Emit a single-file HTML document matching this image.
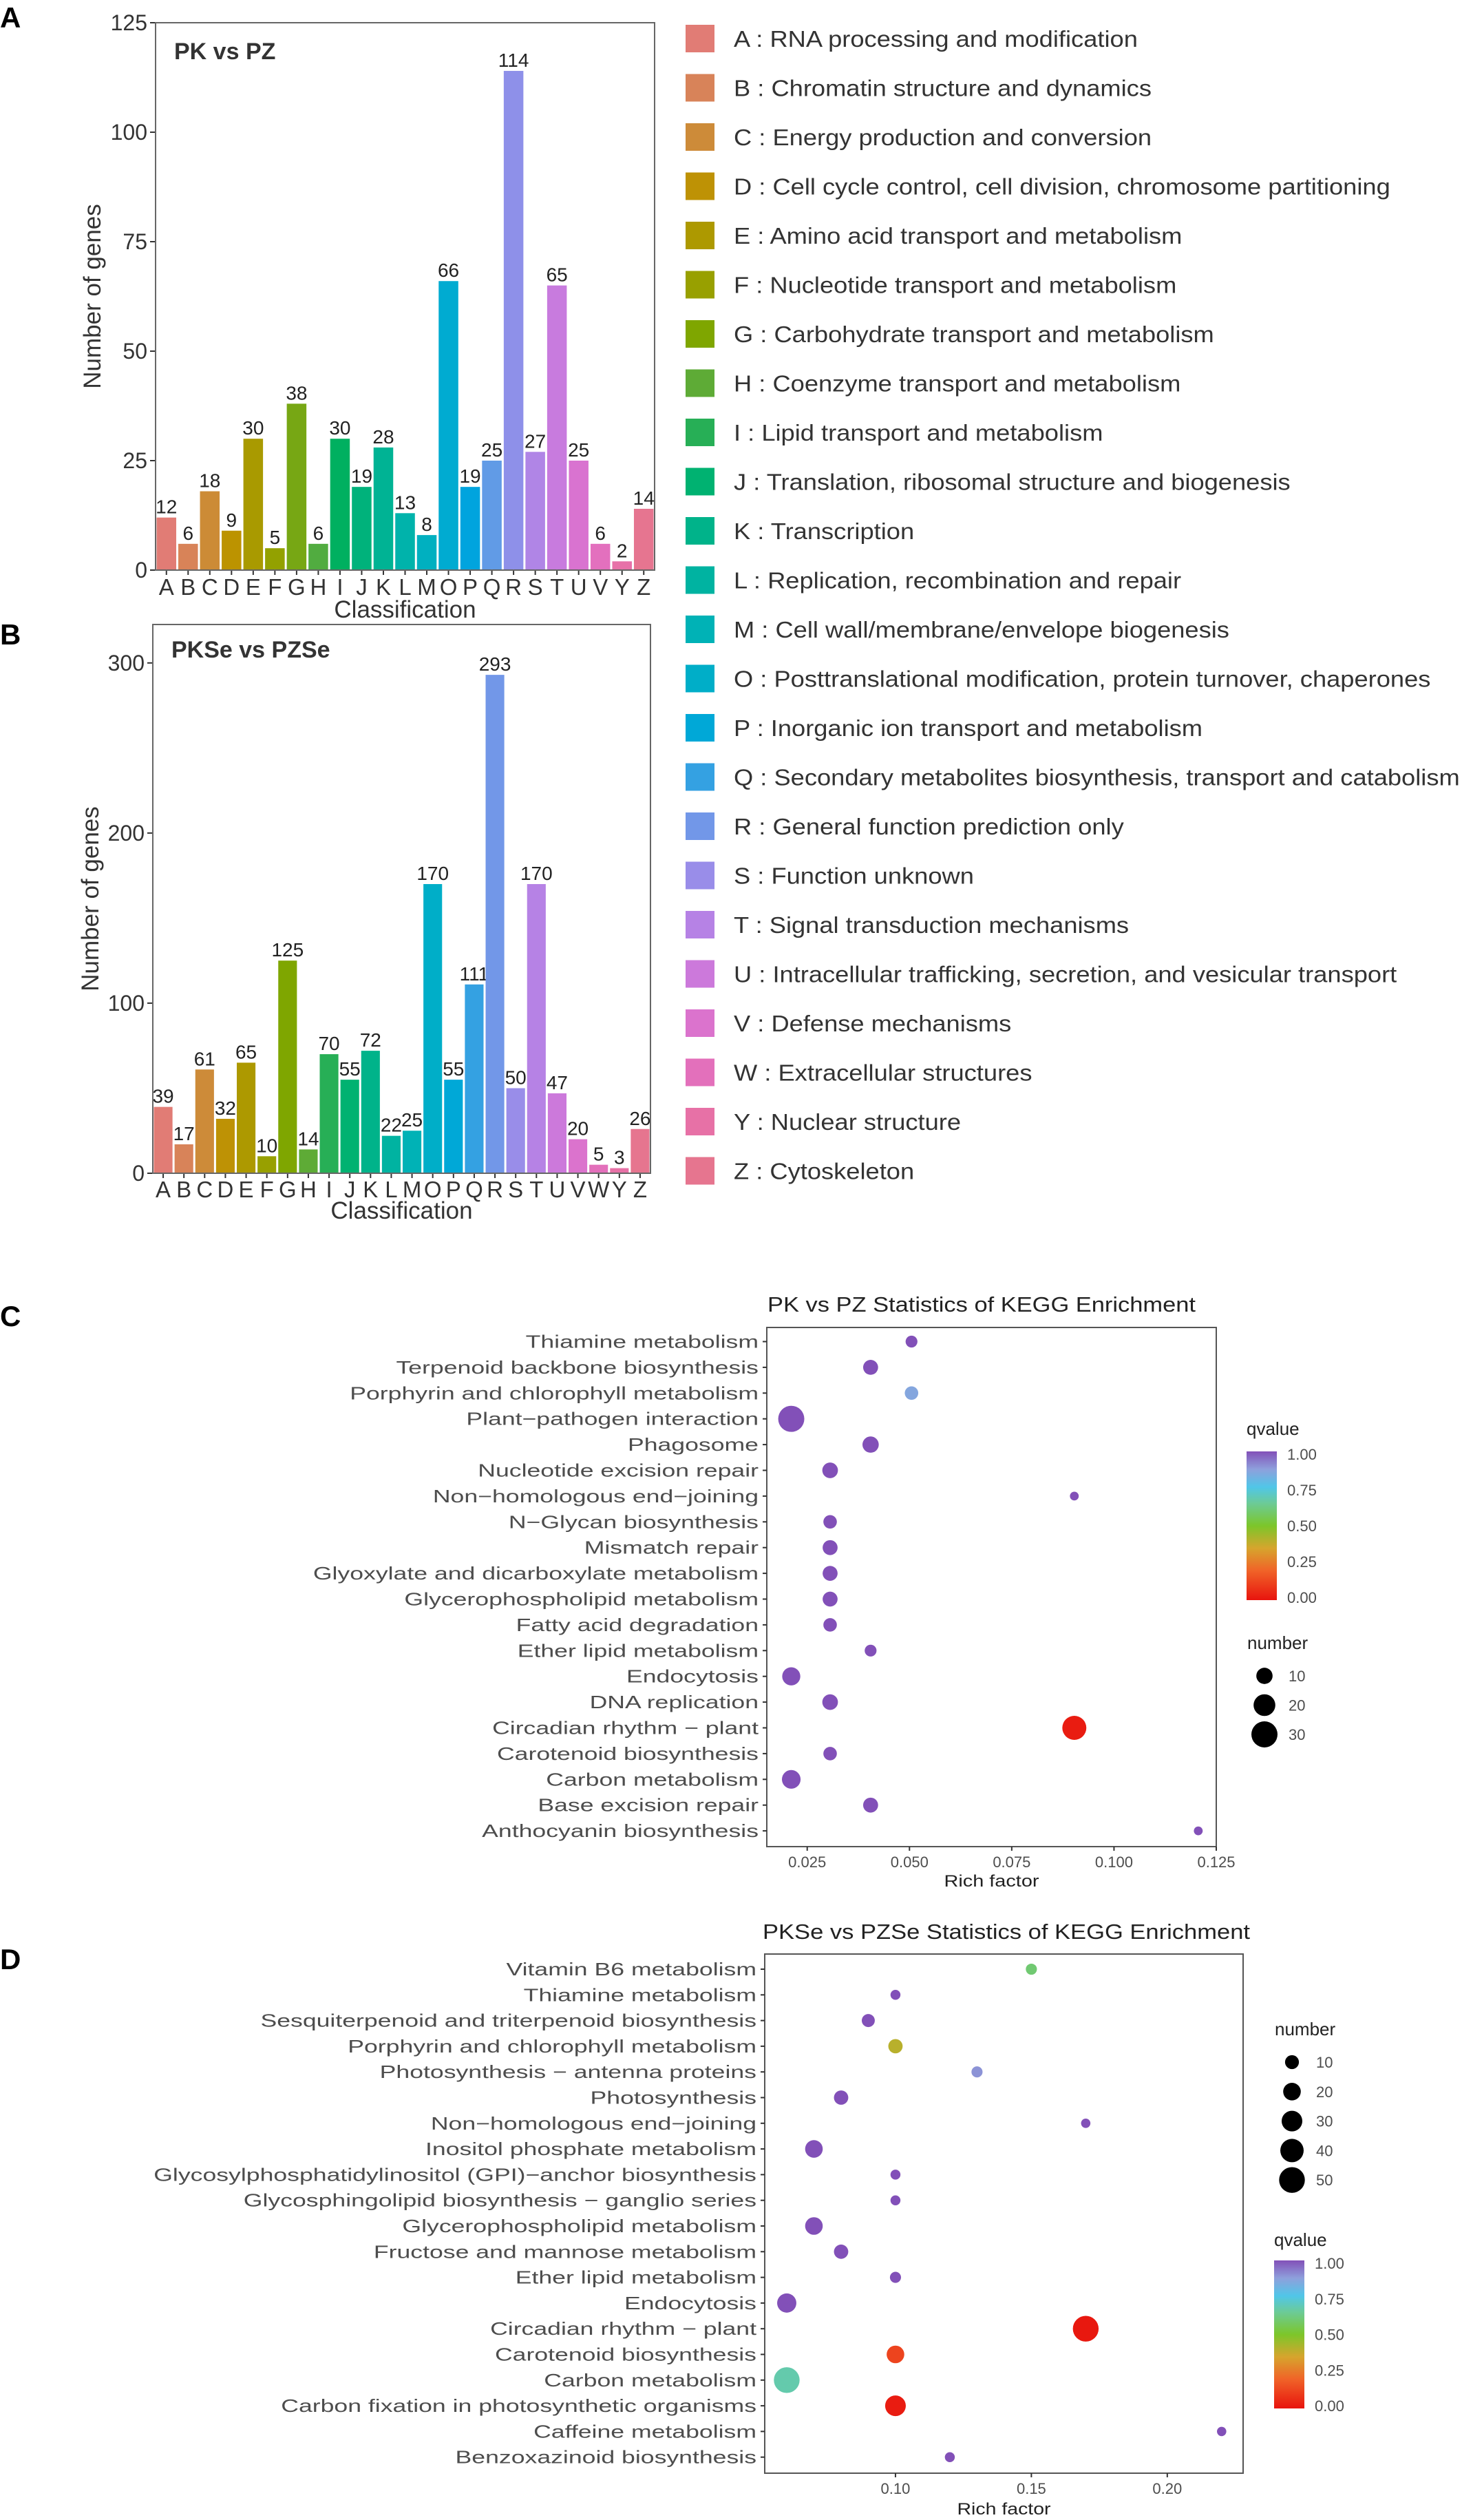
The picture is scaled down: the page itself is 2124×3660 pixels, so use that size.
<!DOCTYPE html>
<html><head><meta charset="utf-8"><style>
html,body{margin:0;padding:0;background:#fff;}
svg{display:block;font-family:"Liberation Sans",Arial,sans-serif;}
</style></head><body>
<svg id="fig" xmlns="http://www.w3.org/2000/svg" width="2124" height="3660" viewBox="0 0 2124 3660">
<defs>
<linearGradient id="qgradC" x1="0" y1="1" x2="0" y2="0"></linearGradient>
<linearGradient id="qgradD" x1="0" y1="1" x2="0" y2="0"></linearGradient>
</defs>
<g id="root"></g>
</svg>
<script>
// ---------- DATA ----------
const lettersA = ["A","B","C","D","E","F","G","H","I","J","K","L","M","O","P","Q","R","S","T","U","V","Y","Z"];
const valuesA = [12,6,18,9,30,5,38,6,30,19,28,13,8,66,19,25,114,27,65,25,6,2,14];
const ticksA = [0,25,50,75,100,125];
const lettersB = ["A","B","C","D","E","F","G","H","I","J","K","L","M","O","P","Q","R","S","T","U","V","W","Y","Z"];
const valuesB = [39,17,61,32,65,10,125,14,70,55,72,22,25,170,55,111,293,50,170,47,20,5,3,26];
const ticksB = [0,100,200,300];
const legendLabels = ["A : RNA processing and modification","B : Chromatin structure and dynamics","C : Energy production and conversion","D : Cell cycle control, cell division, chromosome partitioning","E : Amino acid transport and metabolism","F : Nucleotide transport and metabolism","G : Carbohydrate transport and metabolism","H : Coenzyme transport and metabolism","I : Lipid transport and metabolism","J : Translation, ribosomal structure and biogenesis","K : Transcription","L : Replication, recombination and repair","M : Cell wall/membrane/envelope biogenesis","O : Posttranslational modification, protein turnover, chaperones","P : Inorganic ion transport and metabolism","Q : Secondary metabolites biosynthesis, transport and catabolism","R : General function prediction only","S : Function unknown","T : Signal transduction mechanisms","U : Intracellular trafficking, secretion, and vesicular transport","V : Defense mechanisms","W : Extracellular structures","Y : Nuclear structure","Z : Cytoskeleton"];

const pathC = ["Thiamine metabolism","Terpenoid backbone biosynthesis","Porphyrin and chlorophyll metabolism","Plant\u2212pathogen interaction","Phagosome","Nucleotide excision repair","Non\u2212homologous end\u2212joining","N\u2212Glycan biosynthesis","Mismatch repair","Glyoxylate and dicarboxylate metabolism","Glycerophospholipid metabolism","Fatty acid degradation","Ether lipid metabolism","Endocytosis","DNA replication","Circadian rhythm \u2212 plant","Carotenoid biosynthesis","Carbon metabolism","Base excision repair","Anthocyanin biosynthesis"];
const richC = [0.0505,0.0405,0.0505,0.0211,0.0405,0.0306,0.0903,0.0306,0.0306,0.0306,0.0306,0.0306,0.0405,0.0211,0.0306,0.0903,0.0306,0.0211,0.0405,0.1206];
const numC = [4,8,6,30,10,9,1,6,8,8,8,6,4,13,9,25,6,14,8,1];
const qC = [1,1,0.86,1,1,1,1,1,1,1,1,1,1,1,1,0.02,1,1,1,1];
const xTicksC = [0.025,0.050,0.075,0.100,0.125];
const xTickLabelsC = ["0.025","0.050","0.075","0.100","0.125"];
const sizeLegC = [10,20,30];

const pathD = ["Vitamin B6 metabolism","Thiamine metabolism","Sesquiterpenoid and triterpenoid biosynthesis","Porphyrin and chlorophyll metabolism","Photosynthesis \u2212 antenna proteins","Photosynthesis","Non\u2212homologous end\u2212joining","Inositol phosphate metabolism","Glycosylphosphatidylinositol (GPI)\u2212anchor biosynthesis","Glycosphingolipid biosynthesis \u2212 ganglio series","Glycerophospholipid metabolism","Fructose and mannose metabolism","Ether lipid metabolism","Endocytosis","Circadian rhythm \u2212 plant","Carotenoid biosynthesis","Carbon metabolism","Carbon fixation in photosynthetic organisms","Caffeine metabolism","Benzoxazinoid biosynthesis"];
const richD = [0.15,0.10,0.09,0.10,0.13,0.08,0.17,0.07,0.10,0.10,0.07,0.08,0.10,0.06,0.17,0.10,0.06,0.10,0.22,0.12];
const numD = [4,2,8,11,4,11,1,20,2,2,20,11,4,25,50,20,50,30,1,2];
const qD = [0.6,1,1,0.4,0.9,1,1,1,1,1,1,1,1,1,0.01,0.12,0.68,0.02,1,1];
const xTicksD = [0.10,0.15,0.20];
const xTickLabelsD = ["0.10","0.15","0.20"];
const sizeLegD = [10,20,30,40,50];
const qTicks = [0,0.25,0.5,0.75,1];
const qTickLabels = ["0.00","0.25","0.50","0.75","1.00"];

// ---------- HELPERS ----------
const NS = "http://www.w3.org/2000/svg";
const root = document.getElementById("root");
function mk(tag, attrs, parent){
  const e = document.createElementNS(NS, tag);
  for (const k in attrs) e.setAttribute(k, attrs[k]);
  (parent||root).appendChild(e);
  return e;
}
function txt(s, attrs, parent){ const e = mk("text", attrs, parent); e.textContent = s; return e; }

function hcl(h, c, l){
  const hr = h*Math.PI/180, u = c*Math.cos(hr), v = c*Math.sin(hr);
  const Xn=95.047,Yn=100,Zn=108.883;
  const d = Xn+15*Yn+3*Zn, un = 4*Xn/d, vn = 9*Yn/d;
  const Y = l>8 ? Yn*Math.pow((l+16)/116,3) : Yn*l/903.3;
  const up = u/(13*l)+un, vp = v/(13*l)+vn;
  const X = Y*9*up/(4*vp), Z = Y*(12-3*up-20*vp)/(4*vp);
  const x=X/100,y=Y/100,z=Z/100;
  let r=3.2406*x-1.5372*y-0.4986*z, g=-0.9689*x+1.8758*y+0.0415*z, b=0.0557*x-0.2040*y+1.0570*z;
  const gm = t => { t = t<=0.0031308 ? 12.92*t : 1.055*Math.pow(t,1/2.4)-0.055; return Math.round(Math.max(0,Math.min(1,t))*255); };
  return "rgb("+gm(r)+","+gm(g)+","+gm(b)+")";
}
function huePal(n){ const out=[]; for(let i=0;i<n;i++) out.push(hcl(15+360*i/n,75,63)); return out; }

const qStops = [[0,[232,20,14]],[0.2,[240,100,40]],[0.35,[214,165,45]],[0.5,[124,198,42]],[0.65,[108,203,150]],[0.76,[80,198,232]],[0.88,[142,160,220]],[1,[130,80,184]]];
function qColor(q){
  for(let i=1;i<qStops.length;i++){
    if(q<=qStops[i][0]){
      const a=qStops[i-1], b=qStops[i], t=(q-a[0])/(b[0]-a[0]);
      const c=a[1].map((v,j)=>Math.round(v+(b[1][j]-v)*t));
      return "rgb("+c.join(",")+")";
    }
  }
  return "rgb(130,80,184)";
}
["qgradC","qgradD"].forEach(id=>{
  const g=document.getElementById(id);
  qStops.forEach(s=>mk("stop",{offset:s[0],"stop-color":"rgb("+s[1].join(",")+")"},g));
});

// ---------- BAR CHARTS ----------
function barChart(cfg){
  const g = mk("g",{});
  
  
  const yScale = v => cfg.y0 - (v/cfg.vmax)*(cfg.y0-cfg.top);
  const n = cfg.letters.length, step = (cfg.right-cfg.left)/n;
  const pal = huePal(n);
  cfg.ticks.forEach(t=>{
    const ty = yScale(t);
    const tk = mk("line",{x1:cfg.left-8,x2:cfg.left,y1:ty,y2:ty,stroke:"#333","stroke-width":2},g);
    
    
    const tl = txt(String(t),{x:cfg.left-12,y:ty+11,"text-anchor":"end","font-size":32,fill:"#333"},g);
    
    
  });
  cfg.values.forEach((v,i)=>{
    const x0 = cfg.left + i*step;
    const b = mk("rect",{x:x0+1.5,y:yScale(v),width:step-3,height:cfg.y0-yScale(v),fill:pal[i]},g);
    
    
    const lb = txt(String(v),{x:x0+step/2,y:yScale(v)-6,"text-anchor":"middle","font-size":28,fill:"#222"},g);
    
    
    const xl = txt(cfg.letters[i],{x:x0+step/2,y:cfg.xlabY,"text-anchor":"middle","font-size":33,fill:"#333"},g);
    
    
    const xt = mk("line",{x1:x0+step/2,x2:x0+step/2,y1:cfg.y0,y2:cfg.y0+7,stroke:"#333","stroke-width":2},g);
    
    
  });
  const box = mk("rect",{x:cfg.left,y:cfg.top,width:cfg.right-cfg.left,height:cfg.y0-cfg.top,fill:"none",stroke:"#666","stroke-width":2},g);
  
  
  const ttl = txt(cfg.title,{x:cfg.left+27,y:cfg.titleY,"font-size":34,"font-weight":"bold",fill:"#333"},g);
  
  
  const xt = txt("Classification",{x:(cfg.left+cfg.right)/2,y:cfg.xTitleY,"text-anchor":"middle","font-size":35,fill:"#333"},g);
  
  
  const yc = (cfg.top+cfg.y0)/2;
  const yt = txt("Number of genes",{x:0,y:0,transform:"translate("+(cfg.yTitleX)+","+yc+") rotate(-90)","text-anchor":"middle","font-size":35,fill:"#333"},g);
  
  
  const pl = txt(cfg.panel,{x:0,y:cfg.panelY,"font-size":42,"font-weight":"bold",fill:"#000"},g);
  
  
}
barChart({name:"bar-chart-pk-vs-pz",letters:lettersA,values:valuesA,ticks:ticksA,vmax:125,left:226,right:951,top:33,y0:828,xlabY:864,xTitleY:897,yTitleX:146,title:"PK vs PZ",titleY:86,panel:"A",panelY:40});
barChart({name:"bar-chart-pkse-vs-pzse",letters:lettersB,values:valuesB,ticks:ticksB,vmax:322.6,left:222,right:945,top:907,y0:1704,xlabY:1739,xTitleY:1770,yTitleX:143,title:"PKSe vs PZSe",titleY:955,panel:"B",panelY:936});

// ---------- COG LEGEND ----------
const legG = mk("g",{});


const legPal = huePal(24);
legendLabels.forEach((s,i)=>{
  const cy = 56 + i*71.5;
  const sq = mk("rect",{x:996,y:cy-20,width:42,height:40,fill:legPal[i]},legG);
  
  
  const t = txt(s,{x:0,y:0,transform:"translate(1066,"+(cy+12)+") scale(1.1,1)","font-size":33,fill:"#333"},legG);
  
  
});

// ---------- BUBBLE CHARTS ----------
function bubble(cfg){
  const g = mk("g",{});
  
  
  const xs = v => cfg.left + (v-cfg.xmin)/(cfg.xmax-cfg.xmin)*(cfg.right-cfg.left);
  const ys = i => cfg.row0 + i*cfg.rowStep;
  const box = mk("rect",{x:cfg.left,y:cfg.top,width:cfg.right-cfg.left,height:cfg.bottom-cfg.top,fill:"#fff",stroke:"#555","stroke-width":2},g);
  
  
  cfg.paths.forEach((p,i)=>{
    const y = ys(i);
    const tk = mk("line",{x1:cfg.left-6,x2:cfg.left,y1:y,y2:y,stroke:"#333","stroke-width":2},g);
    
    
    const t = txt(p,{x:0,y:0,transform:"translate("+(cfg.left-12)+","+(y+9)+") scale(1.37,1)","text-anchor":"end","font-size":26,fill:"#4d4d4d"},g);
    
    
  });
  cfg.paths.forEach((p,i)=>{
    const c = mk("circle",{cx:xs(cfg.rich[i]),cy:ys(i),r:cfg.rad(cfg.num[i]),fill:qColor(cfg.q[i])},g);
    
    
  });
  cfg.xticks.forEach((v,i)=>{
    const x = xs(v);
    const tk = mk("line",{x1:x,x2:x,y1:cfg.bottom,y2:cfg.bottom+6,stroke:"#333","stroke-width":2},g);
    
    
    const t = txt(cfg.xlabels[i],{x:x,y:cfg.bottom+30,"text-anchor":"middle","font-size":22,fill:"#4d4d4d"},g);
    
    
  });
  const xt = txt("Rich factor",{x:(cfg.left+cfg.right)/2 - cfg.rfW/2,y:cfg.rfY,"font-size":24,fill:"#222",textLength:cfg.rfW,lengthAdjust:"spacingAndGlyphs"},g);
  
  
  const tt = txt(cfg.title,{x:cfg.titleX,y:cfg.titleY,"font-size":31,fill:"#222",textLength:cfg.titleW,lengthAdjust:"spacingAndGlyphs"},g);
  
  
  const pl = txt(cfg.panel,{x:0,y:cfg.panelY,"font-size":42,"font-weight":"bold",fill:"#000"},g);
  
  
  const qt = txt("qvalue",{x:cfg.qx,y:cfg.qTitleY,"font-size":26,fill:"#222"},g);
  
  
  const qy = q => cfg.qBot - q*(cfg.qBot-cfg.qTop);
  const cb = mk("rect",{x:cfg.qx,y:qy(1)-4,width:44,height:(cfg.qBot-cfg.qTop)+8,fill:"url(#"+cfg.grad+")"},g);
  
  
  qTicks.forEach((q,i)=>{
    const t = txt(qTickLabels[i],{x:cfg.qx+59,y:qy(q)+8,"font-size":22,fill:"#4d4d4d"},g);
    
    
  });
  const nt = txt("number",{x:cfg.nx,y:cfg.nTitleY,"font-size":26,fill:"#222"},g);
  
  
  cfg.sizeLeg.forEach((n,i)=>{
    const cy = cfg.nRow0 + i*cfg.nStep;
    const c = mk("circle",{cx:cfg.nx+25,cy:cy,r:cfg.rad(n),fill:"#000"},g);
    
    
    const t = txt(String(n),{x:cfg.nx+60,y:cy+8,"font-size":22,fill:"#4d4d4d"},g);
    
    
  });
}
bubble({name:"kegg-bubble-pk-vs-pz",paths:pathC,rich:richC,num:numC,q:qC,xticks:xTicksC,xlabels:xTickLabelsC,sizeLeg:sizeLegC,
  left:1114,right:1767,top:1928,bottom:2682,xmin:0.01512,xmax:0.125,row0:1948.5,rowStep:37.4,
  rad:n=>Math.sqrt(30+11*n),rfW:138,rfY:2740,title:"PK vs PZ Statistics of KEGG Enrichment",titleX:1115,titleY:1905,titleW:622,
  panel:"C",panelY:1926,qx:1811,qTitleY:2084,qTop:2112,qBot:2320,grad:"qgradC",
  nx:1812,nTitleY:2395,nRow0:2434,nStep:42.5});
bubble({name:"kegg-bubble-pkse-vs-pzse",paths:pathD,rich:richD,num:numD,q:qD,xticks:xTicksD,xlabels:xTickLabelsD,sizeLeg:sizeLegD,
  left:1111,right:1806,top:2838,bottom:3592,xmin:0.0519,xmax:0.2279,row0:2860,rowStep:37.3,
  rad:n=>Math.sqrt(40+6.2*n),rfW:136,rfY:3652,title:"PKSe vs PZSe Statistics of KEGG Enrichment",titleX:1108,titleY:2816,titleW:708,
  panel:"D",panelY:2860,qx:1851,qTitleY:3262,qTop:3287,qBot:3494,grad:"qgradD",
  nx:1852,nTitleY:2956,nRow0:2995,nStep:42.8});
</script>
</body></html>
